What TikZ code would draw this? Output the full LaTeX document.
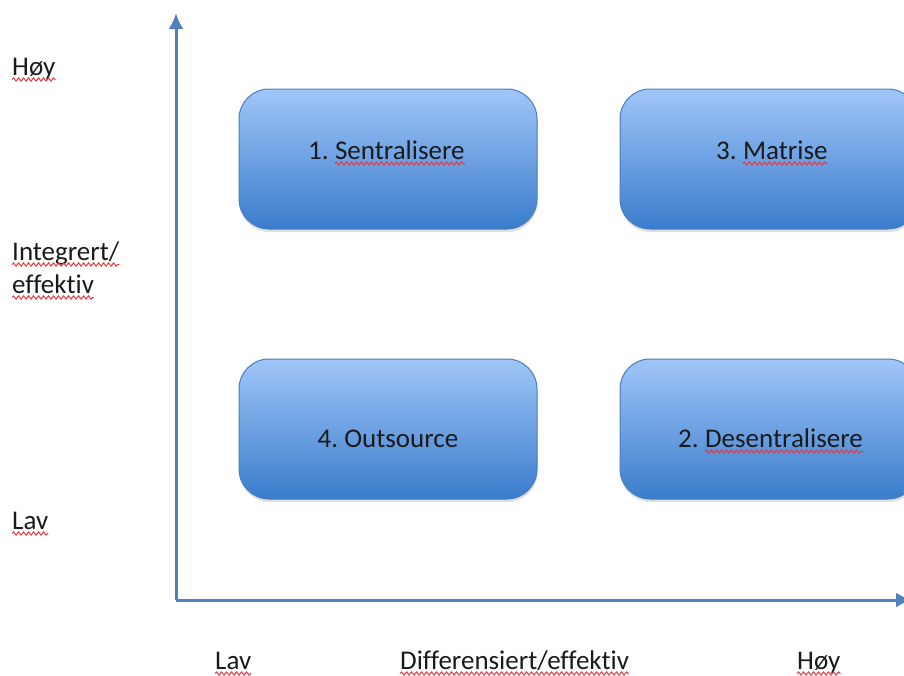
\documentclass[tikz,border=0pt]{standalone}
\usepackage{fontspec}
\setmainfont{Carlito}[Ligatures=NoCommon]
\usetikzlibrary{arrows.meta,shadows,decorations.pathmorphing}
\definecolor{spellred}{HTML}{E8383D}
\definecolor{boxtop}{HTML}{A0C6F8}
\definecolor{boxbot}{HTML}{3A7CCC}
\definecolor{boxline}{HTML}{4A7EBB}
\definecolor{axisblue}{HTML}{4F81BD}
\definecolor{txt}{HTML}{1A1A1A}
\frenchspacing
\begin{document}
\begin{tikzpicture}[x=1pt,y=-1pt,
  quad/.style={draw=boxline, line width=1pt, rounded corners=30pt,
    top color=boxtop, bottom color=boxbot,
    minimum width=298pt, minimum height=140pt,
    drop shadow={shadow xshift=0.5pt, shadow yshift=-3pt, opacity=0.25}},
  lbl/.style={anchor=base west, inner sep=0pt, text=txt, font=\fontsize{27}{33}\selectfont},
  btxt/.style={anchor=base, inner sep=0pt, text=txt, font=\fontsize{27}{33}\selectfont},
  axis/.style={draw=axisblue, line width=3pt, -{Latex[length=16pt,width=15pt]}},
  wave/.style={draw=spellred, line width=1pt, decorate,
    decoration={snake, segment length=5pt, amplitude=1.6pt}}]
\useasboundingbox (0,0) rectangle (904,675);
% boxes
\node[quad] (b1) at (388,159) {};
\node[quad] (b3) at (769,159) {};
\node[quad] (b4) at (388,429) {};
\node[quad] (b2) at (769,429) {};
% box texts
\node[lbl] (t1n) at (308,159) {1.};
\node[lbl] (t1) at ([xshift=6pt]t1n.base east) {Sentralisere};
\node[lbl] (t3n) at (716,159) {3.};
\node[lbl] (t3) at ([xshift=6pt]t3n.base east) {Matrise};
\node[btxt] (t4) at (388,447) {4. Outsource};
\node[lbl] (t2n) at (678,447) {2.};
\node[lbl] (t2) at ([xshift=6pt]t2n.base east) {Desentralisere};
% axes
\coordinate (O) at (176,600);
\coordinate (yt) at (176,13);
\coordinate (xt) at (912,600);
\draw[axis] (O) -- (yt);
\draw[axis] (O) -- (xt);
% y labels
\node[lbl] (yhoy) at (12,75) {Høy};
\node[lbl] (yint1) at (12,260) {Integrert/};
\node[lbl] (yint2) at (12,293) {effektiv};
\node[lbl] (ylav) at (12,529) {Lav};
% x labels
\node[lbl] (xlav) at (215,669) {Lav};
\node[lbl] (xdiff) at (400,669) {Differensiert/effektiv};
\node[lbl] (xhoy) at (797,669) {Høy};
% spelling marks
\foreach \w in {t1,t3,t2,yhoy,yint1,yint2,ylav,xlav,xdiff,xhoy}
  \draw[wave] ([yshift=-4.5pt]\w.base west) -- ([yshift=-4.5pt]\w.base east);
\end{tikzpicture}
\end{document}
